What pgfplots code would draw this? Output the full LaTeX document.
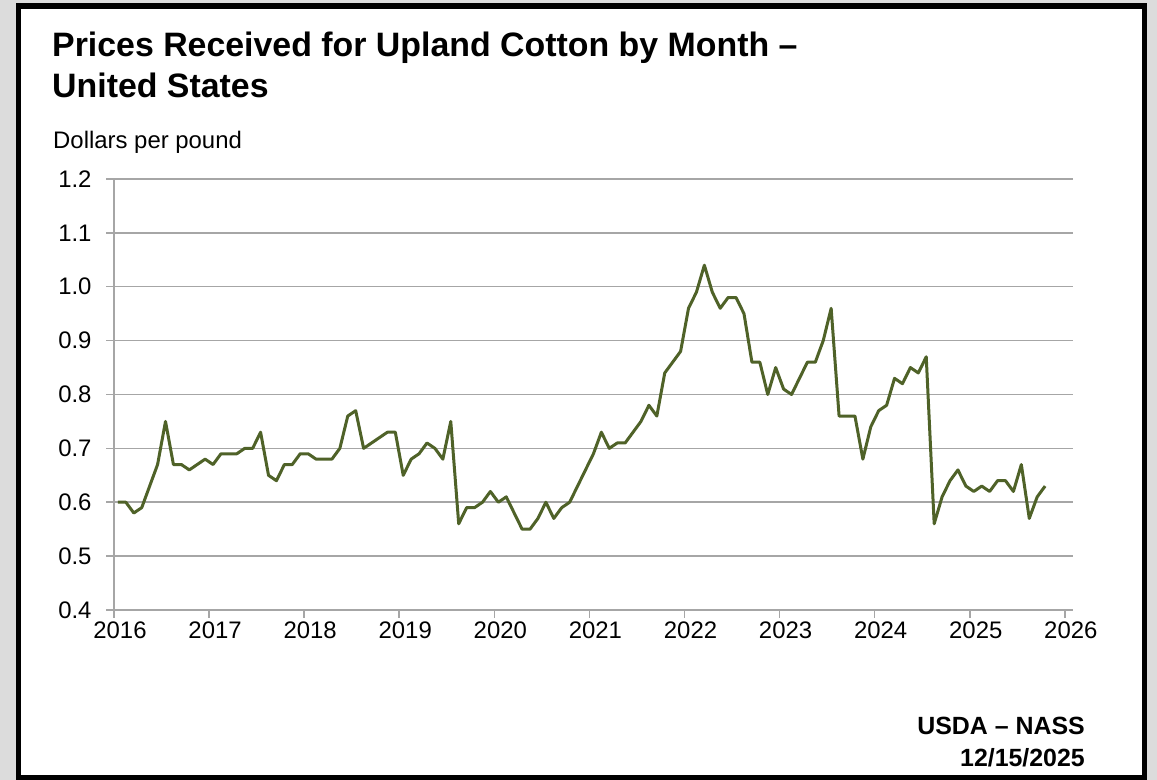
\documentclass[border=0pt]{standalone}
\usepackage{fontspec}
\setmainfont{Liberation Sans}
\usepackage{pgfplots}
\pgfplotsset{compat=1.18}
\usepackage{pgfplotstable}
\definecolor{cottonline}{HTML}{4F6228}
\definecolor{gridgray}{HTML}{A6A6A6}
\definecolor{bggray}{HTML}{DCDCDC}

% monthly price received, dollars per pound
\pgfplotstableread{
year month price
2016 1 0.60
2016 2 0.60
2016 3 0.58
2016 4 0.59
2016 5 0.63
2016 6 0.67
2016 7 0.75
2016 8 0.67
2016 9 0.67
2016 10 0.66
2016 11 0.67
2016 12 0.68
2017 1 0.67
2017 2 0.69
2017 3 0.69
2017 4 0.69
2017 5 0.70
2017 6 0.70
2017 7 0.73
2017 8 0.65
2017 9 0.64
2017 10 0.67
2017 11 0.67
2017 12 0.69
2018 1 0.69
2018 2 0.68
2018 3 0.68
2018 4 0.68
2018 5 0.70
2018 6 0.76
2018 7 0.77
2018 8 0.70
2018 9 0.71
2018 10 0.72
2018 11 0.73
2018 12 0.73
2019 1 0.65
2019 2 0.68
2019 3 0.69
2019 4 0.71
2019 5 0.70
2019 6 0.68
2019 7 0.75
2019 8 0.56
2019 9 0.59
2019 10 0.59
2019 11 0.60
2019 12 0.62
2020 1 0.60
2020 2 0.61
2020 3 0.58
2020 4 0.55
2020 5 0.55
2020 6 0.57
2020 7 0.60
2020 8 0.57
2020 9 0.59
2020 10 0.60
2020 11 0.63
2020 12 0.66
2021 1 0.69
2021 2 0.73
2021 3 0.70
2021 4 0.71
2021 5 0.71
2021 6 0.73
2021 7 0.75
2021 8 0.78
2021 9 0.76
2021 10 0.84
2021 11 0.86
2021 12 0.88
2022 1 0.96
2022 2 0.99
2022 3 1.04
2022 4 0.99
2022 5 0.96
2022 6 0.98
2022 7 0.98
2022 8 0.95
2022 9 0.86
2022 10 0.86
2022 11 0.80
2022 12 0.85
2023 1 0.81
2023 2 0.80
2023 3 0.83
2023 4 0.86
2023 5 0.86
2023 6 0.90
2023 7 0.96
2023 8 0.76
2023 9 0.76
2023 10 0.76
2023 11 0.68
2023 12 0.74
2024 1 0.77
2024 2 0.78
2024 3 0.83
2024 4 0.82
2024 5 0.85
2024 6 0.84
2024 7 0.87
2024 8 0.56
2024 9 0.61
2024 10 0.64
2024 11 0.66
2024 12 0.63
2025 1 0.62
2025 2 0.63
2025 3 0.62
2025 4 0.64
2025 5 0.64
2025 6 0.62
2025 7 0.67
2025 8 0.57
2025 9 0.61
2025 10 0.63
}\cottonprices

\begin{document}
\begin{tikzpicture}[x=1bp,y=1bp]
\useasboundingbox (0,0) rectangle (1157,780);
\fill[bggray] (0,0) rectangle (1157,780);
\draw[line width=5.5bp, fill=white] (18.5,2) rectangle (1144.5,774);

\node[anchor=base west, inner sep=0, font=\bfseries\fontsize{34}{40}\selectfont] at (52,723) {Prices Received for Upland Cotton by Month –};
\node[anchor=base west, inner sep=0, font=\bfseries\fontsize{34}{40}\selectfont] at (52,682) {United States};
\node[anchor=base west, inner sep=0, font=\fontsize{24}{28}\selectfont] at (53,631) {Dollars per pound};

\node[anchor=base east, inner sep=0, font=\bfseries\fontsize{25}{29}\selectfont] at (1085,45) {USDA – NASS};
\node[anchor=base east, inner sep=0, font=\bfseries\fontsize{25}{29}\selectfont] at (1085,13) {12/15/2025};

\begin{axis}[
  at={(114bp,170bp)}, anchor=south west,
  width=959bp, height=431bp, scale only axis,
  xmin=2016, xmax=2026.085, ymin=0.4, ymax=1.2,
  axis x line*=bottom, axis y line*=left,
  axis line style={gridgray, line width=1.5bp, -},
  xtick={2016,...,2026},
  ytick={0.4,0.5,0.6,0.7,0.8,0.9,1.0,1.1,1.2},
  ymajorgrids, major grid style={gridgray, line width=1.5bp},
  tick align=outside, major tick length=8bp,
  tick style={gridgray, line width=1.5bp},
  xticklabel style={/pgf/number format/1000 sep={}, xshift=6bp},
  yticklabel style={xshift=-11bp, /pgf/number format/fixed,
    /pgf/number format/fixed zerofill, /pgf/number format/precision=1},
  /pgf/number format/assume math mode=true,
  ticklabel style={font=\fontsize{24}{28}\selectfont},
]
\addplot[cottonline, line width=3bp, line join=round] table[x expr=\thisrow{year}+(\thisrow{month}-0.5)/12, y=price] {\cottonprices};
\end{axis}
\end{tikzpicture}
\end{document}
